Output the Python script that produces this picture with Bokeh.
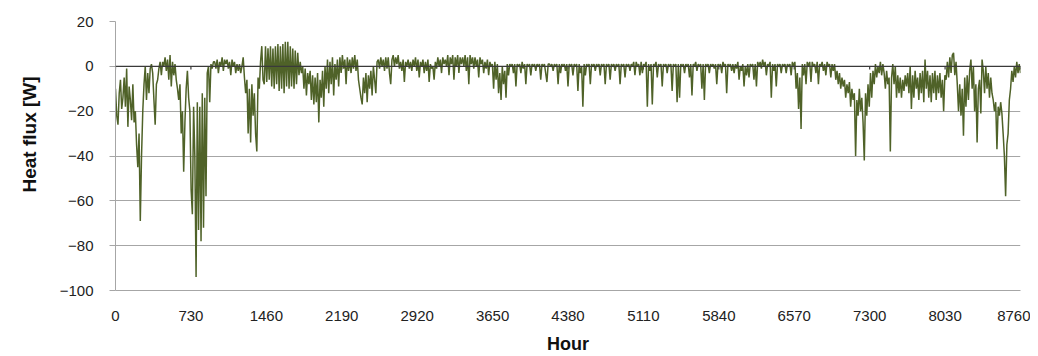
from bokeh.plotting import figure
from bokeh.models import Range1d, Span, FixedTicker, Title
from bokeh.embed import file_html
from bokeh.resources import INLINE

# heat flux every 12 hours (upper / lower swings of the daily cycle)
hours = list(range(0, 8761, 12))
flux = [
    -10, -22, -26, -12, -6, -19, -14, -5, -18, -1,
    -27, -9, -15, -24, -8, -25, -20, -35, -45, -30,
    -69, -40, -20, -8, 0, -15, -3, -12, -1, 1,
    -3, -15, -26, -8, -6, -1, 2, -4, 2, 0,
    4, -2, 3, -6, 5, -9, 2, -4, 1, -6,
    -10, -15, -8, -30, -20, -47, -25, -10, -2, -14,
    -20, -55, -66, -18, -40, -94, -16, -73, -18, -78,
    -12, -72, -14, -58, -3, 0, -16, 1, -1, 2,
    2, -1, 3, -3, 2, 0, 4, -2, 3, 1,
    3, -1, 2, -4, 3, 0, 2, -3, 1, -2,
    1, -3, 0, 4, -5, -12, -6, -30, -10, -34,
    -8, -22, -12, -30, -38, -5, -10, 2, 9, -6,
    -8, 9, -7, 8, -6, 9, -9, 8, -10, 9,
    -8, 10, -11, 9, -10, 10, -12, 11, -9, 11,
    -10, 9, -9, 8, -10, 7, -8, 6, -4, 2,
    -3, 0, -10, -1, -13, -3, -8, -2, -15, -4,
    -17, -5, -16, -3, -25, -6, -14, -2, -18, 0,
    -10, 3, -12, 2, -8, 4, -13, 1, -6, 3,
    -9, 4, -3, 5, -1, 3, -8, 4, -2, 3,
    -3, 4, -1, 5, -2, 3, -6, -10, -14, -17,
    -5, -12, -3, -16, -4, -10, -2, -13, 0, -6,
    -12, 2, 3, -1, 4, 0, 3, -2, 4, -1,
    4, -3, -8, 3, 5, 0, 4, 1, 5, -1,
    2, -2, 3, -7, 2, 0, 3, -1, 2, -2,
    3, 0, 4, -2, 3, -5, 2, 0, 3, -3,
    2, -2, 3, -7, 1, -1, 0, -6, 2, -1,
    4, 0, 3, -3, 4, 1, 3, 0, 5, -4,
    4, 1, 5, -6, 4, 0, 5, -3, 4, 1,
    4, 0, 5, -2, 4, -8, 5, 1, 4, -1,
    4, 0, 3, -5, 4, 1, 3, -3, 2, -1,
    3, -4, 2, 0, 1, -10, 2, -6, 1, -12,
    -3, -15, 0, -8, -2, -14, 1, -4, 1, 0,
    1, -3, 1, -9, 1, 0, 1, -3, 2, -1,
    1, -8, 1, 0, 1, -4, 1, 0, 1, -2,
    1, 0, 1, -6, 1, 0, 1, -3, -7, 1,
    1, 0, 1, -2, 1, 0, 1, -8, 1, -3,
    1, 0, 1, -2, 1, -9, 1, 0, 1, -4,
    1, 0, 1, -11, 1, -3, 0, -18, 1, -4,
    1, 0, 1, -8, 1, 0, 1, -2, 1, 0,
    1, -4, 1, 0, 1, -8, 1, 0, 1, -6,
    1, 0, 1, -2, 1, 0, 1, -8, 1, 0,
    1, -5, 1, 0, 1, -2, 1, 0, 2, -4,
    2, 0, 1, -4, 2, -3, 1, 0, 2, -18,
    1, -2, 1, -17, 1, 0, 2, -5, 1, 0,
    1, -9, 1, 0, 1, -3, 1, 0, 1, -11,
    1, 0, 1, -16, 1, -14, 1, 0, 1, -3,
    1, 0, 1, -5, 1, -13, 1, 0, 2, -2,
    1, 0, 1, -10, 1, -15, 1, 0, 1, -3,
    1, 0, 1, -1, 1, -8, 1, 0, 1, -3,
    2, 0, 1, -12, 1, 0, 1, -2, 1, -3,
    1, -1, 2, -6, 0, -2, 1, -9, 0, -4,
    1, -5, 1, 0, 1, -6, 1, -9, 2, 0,
    2, -1, 3, 0, 2, -4, 1, 0, 2, -14,
    1, -2, 1, -9, 1, 0, 1, -3, 1, 0,
    1, -3, 1, 0, 1, -4, 2, 0, 2, -10,
    -3, -19, -5, -28, 1, -4, 1, -8, 2, 0,
    2, -7, 2, 0, 1, -3, 2, -8, 1, 0,
    2, -2, 1, -4, 2, 0, 1, -5, 1, -2,
    1, -6, -2, -8, -3, -10, -5, -9, -6, -14,
    -8, -12, -7, -18, -10, -15, -12, -40, -15, -22,
    -10, -20, -14, -25, -42, -12, -22, -8, -18, -3,
    -14, -2, -8, 1, -5, 0, -3, 2, -4, 1,
    -3, -10, -2, -8, -5, -38, -5, 1, -8, 0,
    -14, -4, -12, -5, -14, -6, -11, -4, -9, -3,
    -12, 0, -19, -4, -14, -2, -10, -5, -15, -3,
    -12, -2, -16, 3, -10, -2, -14, -4, -16, -3,
    -12, -2, -15, -4, -12, -3, -14, -6, -20, -4,
    -6, 2, -5, 4, -3, 5, 6, -4, 2, -8,
    -20, -8, -22, -10, -31, -5, -18, -4, -15, -2,
    3, -10, 0, -20, -8, -34, -10, -6, -21, 3,
    -2, -12, 0, -10, -3, -14, -5, -12, -15, -20,
    -16, -37, -18, -22, -16, -21, -30, -40, -58, -35,
    -30, -15, -10, -2, -7, 0, -5, 2, -3, 1,
    -3,
]

x_ticks = [0, 730, 1460, 2190, 2920, 3650, 4380, 5110, 5840, 6570, 7300, 8030, 8760]
y_ticks = [-100, -80, -60, -40, -20, 0, 20]
y_tick_labels = ["\u2212100", "\u221280", "\u221260", "\u221240", "\u221220", "0", "20"]
x_title = "Hour"
y_title = "Heat flux [W]"

FONT = "Liberation Sans"
GRID = "#A6A6A6"

p = figure(width=1030, height=356, output_backend="svg", toolbar_location=None,
           x_range=Range1d(0, 8760), y_range=Range1d(-100, 20),
           min_border_left=114, min_border_right=10, min_border_top=21,
           min_border_bottom=65)
p.outline_line_color = None
p.background_fill_color = "white"
p.border_fill_color = "white"

p.xgrid.visible = False
p.ygrid.ticker = FixedTicker(ticks=y_ticks)
p.ygrid.grid_line_color = GRID
p.ygrid.grid_line_width = 1

# zero axis line with its tick marks
p.add_layout(Span(location=0, dimension="width", line_color="#3a3a3a", line_width=1.2))
p.segment(x0=x_ticks, y0=[0] * len(x_ticks), x1=x_ticks, y1=[-1.4] * len(x_ticks),
          line_color="#3a3a3a", line_width=1.2)

p.line(hours, flux, line_color="#4F6228", line_width=1.5)

xa = p.xaxis[0]
xa.ticker = FixedTicker(ticks=x_ticks)
xa.major_tick_out = 0
xa.major_tick_in = 0
xa.minor_tick_out = 0
xa.minor_tick_in = 0
xa.axis_line_color = GRID
xa.major_label_standoff = 20
xa.major_label_text_font = FONT
xa.major_label_text_font_size = "15px"
xa.major_label_text_color = "#222222"
xa.axis_label = x_title
xa.axis_label_text_font = FONT
xa.axis_label_text_font_style = "bold"
xa.axis_label_text_font_size = "18px"
xa.axis_label_text_color = "#111111"
xa.axis_label_standoff = 10

ya = p.yaxis[0]
ya.ticker = FixedTicker(ticks=y_ticks)
ya.major_label_overrides = dict(zip(y_ticks, y_tick_labels))
ya.major_tick_out = 6
ya.major_tick_in = 0
ya.minor_tick_out = 0
ya.minor_tick_in = 0
ya.major_tick_line_color = GRID
ya.axis_line_color = GRID
ya.major_label_standoff = 16
ya.major_label_text_font = FONT
ya.major_label_text_font_size = "15px"
ya.major_label_text_color = "#222222"

# y title sits a little above the plot-area centre, as in the original
p.add_layout(Title(text=y_title, align="left", offset=98, standoff=33,
                   text_font=FONT, text_font_style="bold", text_font_size="19px",
                   text_color="#111111"), "left")

open("out.html", "w").write(file_html(p, INLINE))
